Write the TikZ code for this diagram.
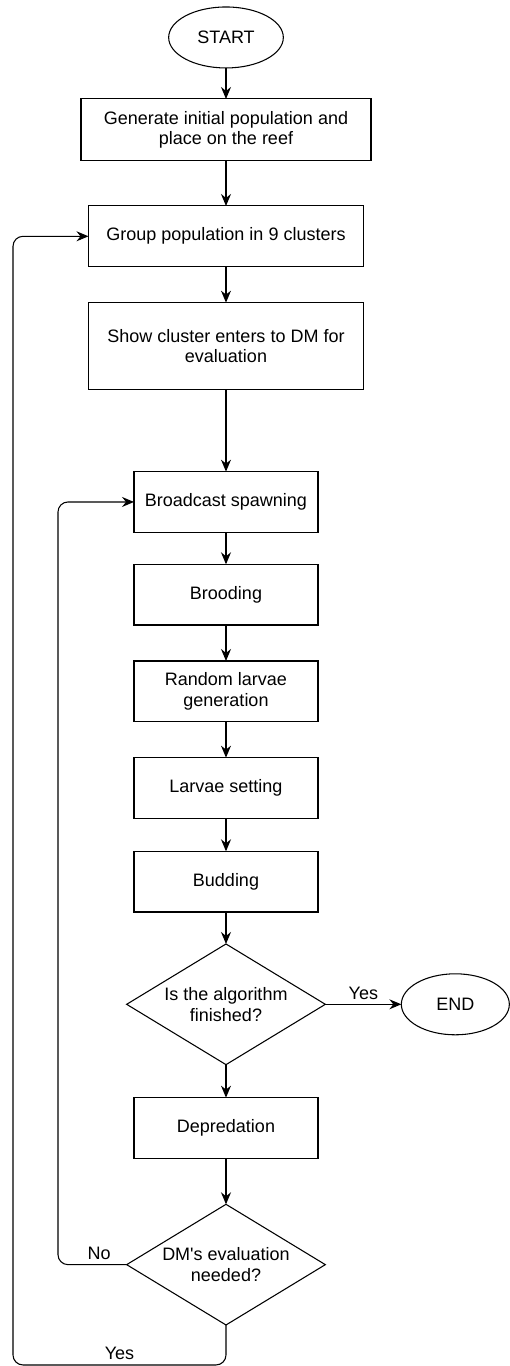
\documentclass[tikz,border=0pt]{standalone}
\usepackage{fontspec}
\setmainfont{Liberation Sans}
\usetikzlibrary{arrows.meta,positioning,shapes.geometric}

\begin{document}
\begin{tikzpicture}[
    font=\fontsize{13.5pt}{15.5pt}\selectfont,
    box/.style={draw, line width=0.8pt, align=center, minimum width=138pt,
      minimum height=45.5pt, inner sep=2pt, outer sep=0pt},
    widebox/.style={box, minimum width=206.25pt},
    terminal/.style={draw, ellipse, line width=0.8pt, minimum width=86pt,
      minimum height=45.75pt, inner sep=0pt, outer sep=0pt},
    decision/.style={draw, diamond, aspect=1.66, line width=0.8pt, align=center,
      minimum width=149pt, minimum height=90.5pt, inner sep=0pt, outer sep=0pt},
    arrow/.style={-{Stealth[length=9pt, width=7.5pt, inset=3pt]}, line width=0.8pt},
    loop/.style={arrow, rounded corners=7.5pt}
  ]
    \useasboundingbox (-169.5pt,28.1pt) rectangle (213pt,-996.4pt);

    \node[terminal] (start) at (0,0) {START};
    \node[box, minimum width=217.5pt, minimum height=46.5pt, below=23.25pt of start] (init)
      {Generate initial population and\\place on the reef};
    \node[widebox, below=33.75pt of init] (group) {Group population in 9 clusters};
    \node[widebox, minimum height=65.25pt, below=27pt of group] (show)
      {Show cluster enters to DM for\\evaluation};
    \node[box, below=61.5pt of show] (broad) {Broadcast spawning};
    \node[box, below=24pt of broad] (brood) {Brooding};
    \node[box, below=27pt of brood] (random) {Random larvae\\generation};
    \node[box, below=27pt of random] (setting) {Larvae setting};
    \node[box, below=24.75pt of setting] (budding) {Budding};
    \node[decision, below=24pt of budding] (finished) {Is the algorithm\\finished?};
    \node[terminal, minimum width=81pt, right=57pt of finished] (end) {END};
    \node[box, below=24.75pt of finished] (depred) {Depredation};
    \node[decision, below=34.5pt of depred] (dmeval) {DM\textquotesingle s evaluation\\needed?};

    % rails of the two feedback loops
    \coordinate[below=30pt of dmeval] (yesturn);
    \coordinate (outerrail) at (-159.75pt,0);
    \coordinate (innerrail) at (-126pt,0);

    \draw[arrow] (start) -- (init);
    \draw[arrow] (init) -- (group);
    \draw[arrow] (group) -- (show);
    \draw[arrow] (show) -- (broad);
    \draw[arrow] (broad) -- (brood);
    \draw[arrow] (brood) -- (random);
    \draw[arrow] (random) -- (setting);
    \draw[arrow] (setting) -- (budding);
    \draw[arrow] (budding) -- (finished);
    \draw[arrow] (finished) -- node[above] {Yes} (end);
    \draw[arrow] (finished) -- (depred);
    \draw[arrow] (depred) -- (dmeval);

    \draw[loop] (dmeval.west) -- node[above, pos=0.4] {No} (dmeval.west -| innerrail)
      -- (innerrail |- broad.west) -- (broad.west);
    \draw[loop] (dmeval.south) -- (yesturn) -- node[above] {Yes} (yesturn -| outerrail)
      -- (outerrail |- group.west) -- (group.west);
  \end{tikzpicture}
\end{document}
